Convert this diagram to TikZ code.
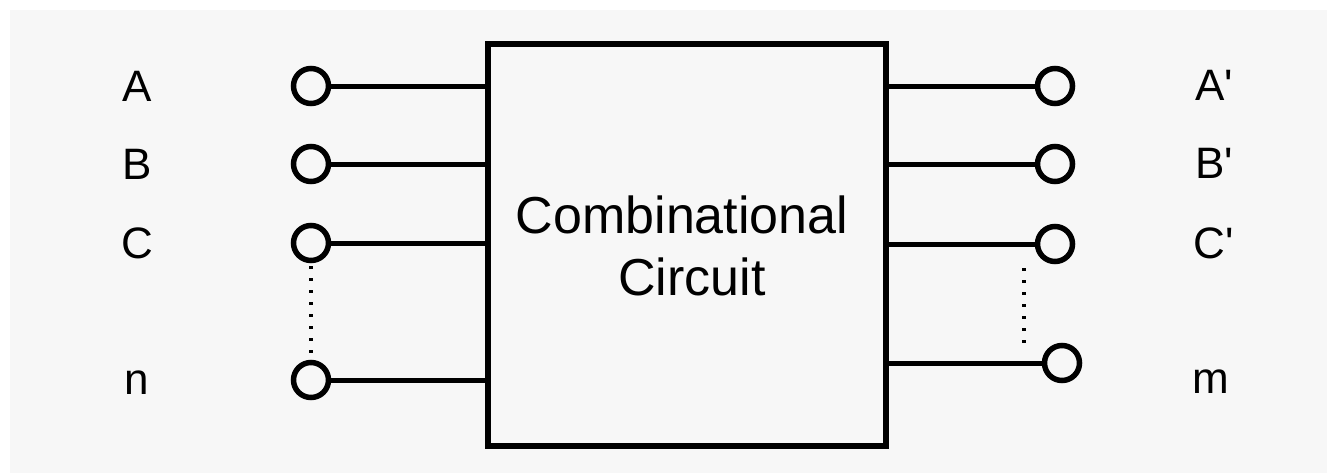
\documentclass[tikz,border=0pt]{standalone}
\usepackage{fontspec}
\setmainfont{Liberation Sans}
\begin{document}
\begin{tikzpicture}[x=1pt,y=-1pt,
  term/.style={circle,draw=black,line width=5.5pt,minimum size=35pt,inner sep=0pt,fill=none},
  wire/.style={line width=5pt},
  lbl/.style={font=\fontsize{44}{50}\selectfont,anchor=base,inner sep=0pt},
  dots/.style={line width=4pt,dash pattern=on 3pt off 9pt}]
\useasboundingbox (0,0) rectangle (1327,474);
\fill[white] (0,0) rectangle (1327,474);
\fill[black!3] (10,10) rectangle (1327,473);
\node[draw=black,line width=6pt,minimum width=398pt,minimum height=402pt,inner sep=0pt] (box) at (687,245) {};
\node[font=\fontsize{52}{62}\selectfont,anchor=base,inner sep=0pt] (t1) at (682,233) {Combinational};
\node[font=\fontsize{52}{62}\selectfont,anchor=base,inner sep=0pt] (t2) at (692,295) {Circuit};
% left terminals
\node[term] (a) at (311,86) {};
\node[term] (b) at (311,164) {};
\node[term] (c) at (311,243) {};
\node[term] (n) at (311,380) {};
\foreach \t in {a,b,c,n} \draw[wire] (\t.east) -- (\t.east -| box.west);
\node[lbl] (la) at (137,101) {A};
\node[lbl] (lb) at (137,179) {B};
\node[lbl] (lc) at (137,258) {C};
\node[lbl] (ln) at (137,394) {n};
% right terminals
\node[term] (a2) at (1055,86) {};
\node[term] (b2) at (1055,164) {};
\node[term] (c2) at (1055,244) {};
\node[term] (m2) at (1062,363) {};
\foreach \t in {a2,b2,c2,m2} \draw[wire] (\t.west) -- (\t.west -| box.east);
\node[lbl] (la2) at (1214,100) {A\textquotesingle};
\node[lbl] (lb2) at (1214,178) {B\textquotesingle};
\node[lbl] (lc2) at (1214,258) {C\textquotesingle};
\node[lbl] (lm2) at (1211,393) {m};
% dotted continuations
\coordinate (d1) at (311,266);
\coordinate (d2) at (311,356);
\draw[dots] (d1) -- (d2);
\coordinate (e1) at (1024,268);
\coordinate (e2) at (1024,350);
\draw[dots] (e1) -- (e2);
\end{tikzpicture}
\end{document}
